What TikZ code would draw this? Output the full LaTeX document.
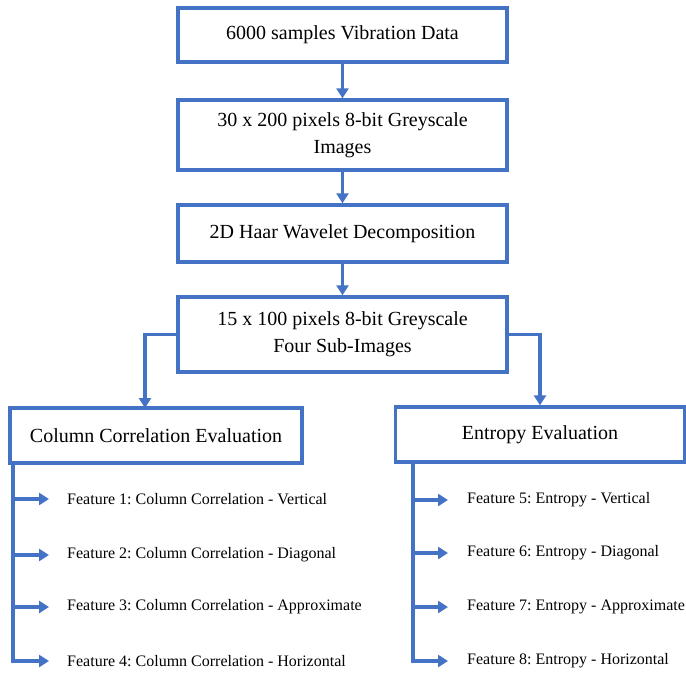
\documentclass[tikz,border=0pt]{standalone}
\usepackage{fontspec}
\setmainfont{Liberation Serif}
\frenchspacing
\usetikzlibrary{arrows.meta}
\definecolor{flowblue}{RGB}{68,114,196}
\tikzset{
  box/.style={draw=flowblue, line width=3.4pt, fill=white, align=center,
    font=\fontsize{20}{27}\selectfont, inner sep=2pt},
  feat/.style={anchor=west, inner sep=0pt, font=\fontsize{16}{19}\selectfont},
  link/.style={draw=flowblue, line width=3.2pt},
  arr/.style={link, -{Triangle[length=10pt,width=12pt]}},
}
\begin{document}
\begin{tikzpicture}[x=1pt,y=-1pt]
\useasboundingbox (0,0) rectangle (686,675);
\node[box, minimum width=329pt, minimum height=54pt] (b1) at (342.5,35) {6000 samples Vibration Data};
\node[box, minimum width=329pt, minimum height=70pt] (b2) at (342.5,135) {30 x 200 pixels 8-bit Greyscale\\Images};
\node[box, minimum width=329pt, minimum height=57pt] (b3) at (342.5,233.5) {2D Haar Wavelet Decomposition};
\node[box, minimum width=329pt, minimum height=75pt] (b4) at (342.5,334.5) {15 x 100 pixels 8-bit Greyscale\\Four Sub-Images};
\node[box, minimum width=292pt, minimum height=55pt] (b5) at (156,435.5) {Column Correlation Evaluation};
\node[box, minimum width=289pt, minimum height=55pt] (b6) at (540,434.5) {Entropy Evaluation};

\draw[arr] (b1) -- (b2);
\draw[arr] (b2) -- (b3);
\draw[arr] (b3) -- (b4);
\coordinate (lt) at (145,408);
\draw[arr] (b4.west) -| (lt);
\draw[arr] (b4.east) -| (b6.north);

\node[feat] (f1) at (67,499) {Feature 1: Column Correlation - Vertical};
\node[feat] (f2) at (67,555) {Feature 2: Column Correlation - Diagonal};
\node[feat] (f3) at (67,607) {Feature 3: Column Correlation - Approximate};
\node[feat] (f4) at (67,661) {Feature 4: Column Correlation - Horizontal};
\node[feat] (f5) at (467,500) {Feature 5: Entropy - Vertical};
\node[feat] (f6) at (467,553) {Feature 6: Entropy - Diagonal};
\node[feat] (f7) at (467,607) {Feature 7: Entropy - Approximate};
\node[feat] (f8) at (467,661) {Feature 8: Entropy - Horizontal};

\coordinate (ltop) at (13,463);
\coordinate (lbot) at (13,662.6);
\draw[link] (ltop) -- (lbot);
\coordinate (rtop) at (413,462);
\coordinate (rbot) at (413,662.6);
\draw[link] (rtop) -- (rbot);

\foreach \f in {f1,f2,f3,f4}{
  \draw[arr, shorten >=18pt] (\f.west -| ltop) ++(-1.6,0) -- (\f.west);
}
\foreach \f in {f5,f6,f7,f8}{
  \draw[arr, shorten >=19pt] (\f.west -| rtop) ++(-1.6,0) -- (\f.west);
}
\end{tikzpicture}
\end{document}
